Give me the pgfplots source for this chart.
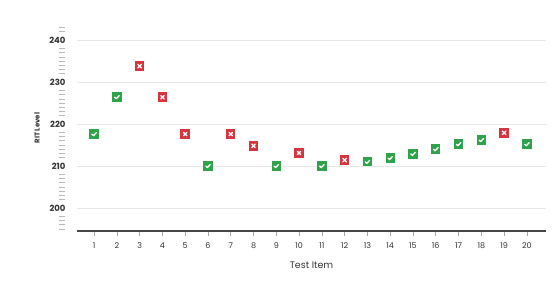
\documentclass[border=0pt]{standalone}
\usepackage{fontspec}
\setmainfont{Poppins}
\usepackage{pgfplots}
\pgfplotsset{compat=1.18}
\definecolor{okgreen}{HTML}{2FA24B}
\definecolor{badred}{HTML}{D5353E}
\definecolor{txt}{HTML}{333333}
\pgfdeclareplotmark{okbox}{%
  \pgfsetfillcolor{okgreen}%
  \pgfpathrectangle{\pgfpoint{-4.7pt}{-4.7pt}}{\pgfpoint{9.4pt}{9.4pt}}\pgfusepath{fill}%
  \pgfsetstrokecolor{white}\pgfsetlinewidth{1.3pt}\pgfsetroundcap\pgfsetroundjoin
  \pgfpathmoveto{\pgfpoint{-2.2pt}{-0.1pt}}\pgfpathlineto{\pgfpoint{-0.6pt}{-1.6pt}}\pgfpathlineto{\pgfpoint{2.3pt}{1.5pt}}\pgfusepath{stroke}}
\pgfdeclareplotmark{badbox}{%
  \pgfsetfillcolor{badred}%
  \pgfpathrectangle{\pgfpoint{-4.7pt}{-4.7pt}}{\pgfpoint{9.4pt}{9.4pt}}\pgfusepath{fill}%
  \pgfsetstrokecolor{white}\pgfsetlinewidth{1.3pt}\pgfsetroundcap
  \pgfpathmoveto{\pgfpoint{-1.7pt}{-1.7pt}}\pgfpathlineto{\pgfpoint{1.7pt}{1.7pt}}%
  \pgfpathmoveto{\pgfpoint{-1.7pt}{1.7pt}}\pgfpathlineto{\pgfpoint{1.7pt}{-1.7pt}}\pgfusepath{stroke}}
\begin{document}
\begin{tikzpicture}
\begin{axis}[
  scale only axis, width=469pt, height=206pt,
  xmin=0.25, xmax=20.84, ymin=194.5, ymax=243.6,
  axis x line*=bottom, axis y line*=left,
  x axis line style={line width=2.2pt, color=txt!90, -},
  y axis line style={draw=none},
  /pgf/number format/assume math mode=true,
  xtick={1,...,20}, xtick align=outside,
  xtick style={draw=gray!70, line width=0.6pt},
  major tick length=5pt,
  ytick={200,210,220,230,240},
  ymajorgrids, grid style={draw=gray!18, line width=0.8pt},
  ytick style={draw=none},
  xticklabel style={font=\fontsize{8}{9}\selectfont, text=txt, yshift=-3pt},
  yticklabel style={font=\fontsize{8.5}{9}\selectfont\bfseries, text=txt, anchor=east, xshift=-8pt},
  xlabel={Test Item}, ylabel={RIT Level},
  every axis x label/.style={at={(axis description cs:0.5,0)}, anchor=center, yshift=-34pt, font=\fontsize{9.5}{10}\selectfont, text=txt},
  every axis y label/.style={at={([xshift=-40pt]axis description cs:0,0.5)}, rotate=90, anchor=center, font=\fontsize{7}{8}\selectfont\bfseries, text=txt},
  clip=false,
]
\pgfplotsinvokeforeach{195,196,197,198,202,203,204,205,206,207,208,212,213,214,215,216,217,218,222,223,224,225,226,227,228,232,233,234,235,236,237,238,242,243}{
  \draw[gray!55, line width=0.6pt] ([xshift=-18pt]axis cs:0.25,#1) -- ([xshift=-12pt]axis cs:0.25,#1);
}
% correct answers
\addplot[only marks, mark=okbox] coordinates {
 (1,217.6) (2,226.4) (6,210) (9,210) (11,210) (13,211) (14,211.9)
 (15,212.9) (16,214) (17,215.2) (18,216.2) (20,215.2)};
% incorrect answers
\addplot[only marks, mark=badbox] coordinates {
 (3,233.8) (4,226.4) (5,217.6) (7,217.6) (8,214.8) (10,213.1) (12,211.4) (19,217.9)};
\end{axis}
\path[use as bounding box] (-77pt,-56pt) rectangle (479pt,231pt);
\end{tikzpicture}
\end{document}
